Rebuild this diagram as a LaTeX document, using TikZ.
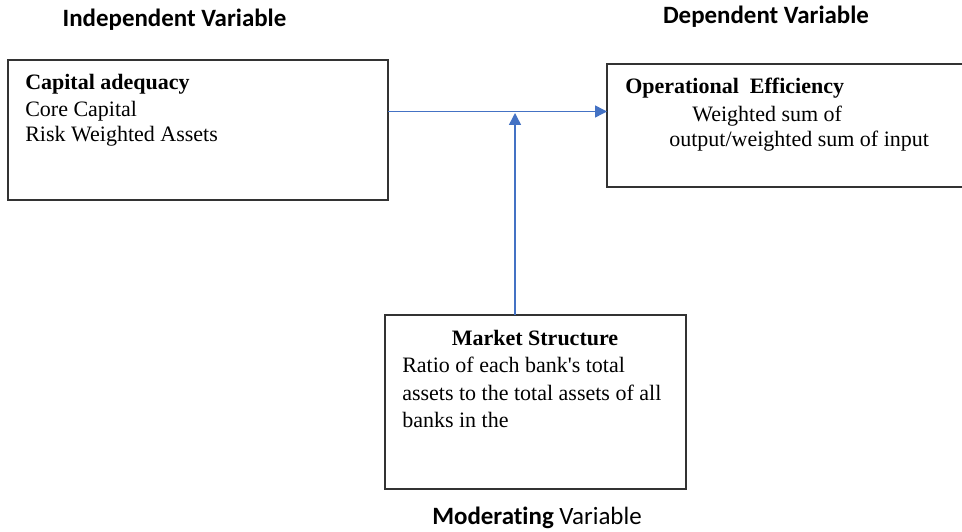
\documentclass[tikz,border=0pt]{standalone}
\usepackage{fontspec}
\setmainfont{Liberation Serif}[Ligatures=TeXOff]
\newfontfamily\calib{Carlito}[Ligatures=CommonOff]
\usetikzlibrary{arrows.meta,fit}
\definecolor{arrblue}{HTML}{4472C4}
\definecolor{boxgray}{HTML}{333333}
\begin{document}
\begin{tikzpicture}[x=0.75pt,y=-0.75pt,
  box/.style={draw=boxgray,line width=1.2pt,inner sep=0pt,outer sep=0pt},
  txt/.style={inner sep=0pt,anchor=base west,font=\fontsize{16.5}{19.5}\selectfont},
  ctxt/.style={txt,anchor=base},
  ttl/.style={inner sep=0pt,anchor=base,font=\calib\fontsize{18.7}{22}\selectfont},
  arr/.style={draw=arrblue,line width=1.1pt,-{Triangle[length=9pt,width=9pt]}}]
\useasboundingbox[fill=white] (0,0) rectangle (962,531);

% boxes
\node[box,fit={(8,60)(388,200)}] (A) {};
\node[box,fit={(607,64)(966,187)}] (B) {};
\node[box,fit={(385,315)(686,489)}] (C) {};

% titles
\node[ttl] (tA) at (174.5,27) {\bfseries Independent Variable};
\node[ttl] (tB) at (766,24) {\bfseries Dependent Variable};
\node[ttl] (tC) at (537,524.5) {\textbf{Moderating} Variable};

% box A text
\node[txt] (a1) at (25,90) {\textbf{Capital adequacy}};
\node[txt] (a2) at (25,117) {Core Capital};
\node[txt] (a3) at (25,142) {Risk Weighted Assets};

% box B text
\node[txt] (b1) at (625,94) {\textbf{Operational\ \ Efficiency}};
\node[txt] (b2) at (692,121.5) {Weighted sum of};
\node[txt] (b3) at (669,146.5) {output/weighted sum of input};

% box C text
\node[ctxt] (c1) at (535,345.5) {\textbf{Market Structure}};
\node[txt] (c2) at (402,372.5) {Ratio of each bank's total};
\node[txt] (c3) at (402,400) {assets to the total assets of all};
\node[txt] (c4) at (402,427.5) {banks in the};

% connectors
\coordinate (hy) at (0,111.5);
\coordinate (vt) at (515,113);
\draw[arr] (A.east |- hy) -- (B.west |- hy);
\draw[arr] (vt |- C.north) -- (vt);
\end{tikzpicture}
\end{document}
